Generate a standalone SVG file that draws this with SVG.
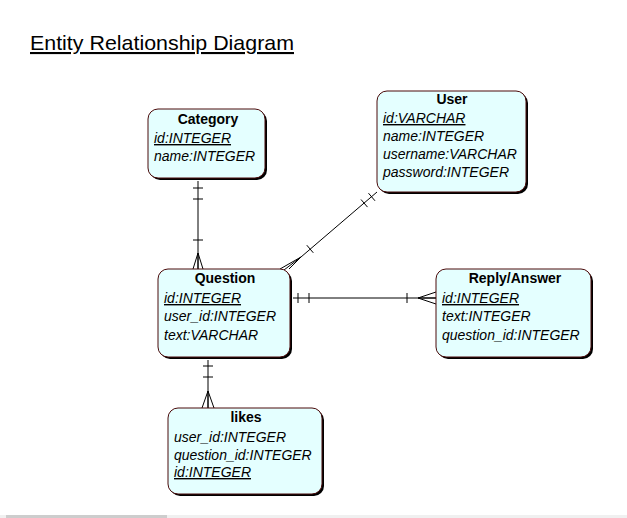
<svg xmlns="http://www.w3.org/2000/svg" width="627" height="518" viewBox="0 0 627 518">
<style>
text{font-family:"Liberation Sans",Arial,sans-serif;font-size:14px;fill:#000}
.t{font-weight:bold;text-anchor:middle}
.a{font-style:italic}
.k{font-style:italic;text-decoration:underline}
.sh{fill:#000}
.bx{fill:#e4ffff;stroke:#4a0a0a;stroke-width:1}
.ln{stroke:#000;stroke-width:1;fill:none}
</style>
<rect x="0" y="0" width="627" height="518" fill="#fff"/>
<text x="30" y="50" textLength="264" lengthAdjust="spacingAndGlyphs" style="font-size:21px;text-decoration:underline">Entity Relationship Diagram</text>
<g id="connectors" class="ln">
<path d="M198 181V269M193 188H203M193 199H203M193 240H203M198 253L193 269M198 253V269M198 253L203 269"/>
<path d="M208 360V408M203 366H213M203 377H213M208 391L202 408M208 391V408M208 391L214 408"/>
<path d="M293 298H436M298 293V303M309 293V303M407 293V303M418 298L436 292M418 298H436M418 298L436 304"/>
<path d="M377 192L301 257M368.5 193.2L375 200.8M361 199.5L367.5 207.1M306.8 245.2L313.3 252.8M301 257L280 269M301 257L284 270M301 257L289 269"/>
</g>
<g id="category">
<rect class="sh" x="150" y="111" width="117" height="69" rx="10"/>
<rect class="bx" x="148" y="109" width="117" height="69" rx="10"/>
<text class="t" x="208" y="124">Category</text>
<text class="k" x="154" y="143">id:INTEGER</text>
<text class="a" x="154" y="161">name:INTEGER</text>
</g>
<g id="user">
<rect class="sh" x="379" y="93" width="149" height="101" rx="10"/>
<rect class="bx" x="377" y="91" width="149" height="101" rx="10"/>
<text class="t" x="452" y="104">User</text>
<text class="k" x="383" y="123">id:VARCHAR</text>
<text class="a" x="383" y="141">name:INTEGER</text>
<text class="a" x="383" y="159">username:VARCHAR</text>
<text class="a" x="383" y="177">password:INTEGER</text>
</g>
<g id="question">
<rect class="sh" x="160" y="271" width="132" height="88" rx="10"/>
<rect class="bx" x="158" y="269" width="132" height="88" rx="10"/>
<text class="t" x="225" y="283">Question</text>
<text class="k" x="164" y="303">id:INTEGER</text>
<text class="a" x="164" y="321">user_id:INTEGER</text>
<text class="a" x="164" y="340">text:VARCHAR</text>
</g>
<g id="reply">
<rect class="sh" x="438" y="271" width="155" height="88" rx="10"/>
<rect class="bx" x="436" y="269" width="155" height="88" rx="10"/>
<text class="t" x="515" y="283">Reply/Answer</text>
<text class="k" x="442" y="303">id:INTEGER</text>
<text class="a" x="442" y="321">text:INTEGER</text>
<text class="a" x="442" y="340">question_id:INTEGER</text>
</g>
<g id="likes">
<rect class="sh" x="170" y="410" width="154" height="86" rx="10"/>
<rect class="bx" x="168" y="408" width="154" height="86" rx="10"/>
<text class="t" x="246" y="422">likes</text>
<text class="a" x="174" y="442">user_id:INTEGER</text>
<text class="a" x="174" y="460">question_id:INTEGER</text>
<text class="k" x="174" y="477">id:INTEGER</text>
</g>
<rect x="0" y="515" width="627" height="3" fill="#f0f0f0"/>
<rect x="6" y="515" width="161" height="3" fill="#cdcdcd"/>
</svg>
